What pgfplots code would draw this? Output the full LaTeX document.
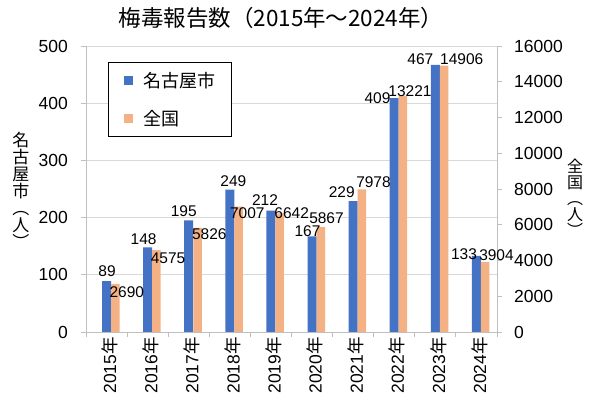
\documentclass[border=0pt]{standalone}
\usepackage{pgfplots}
\pgfplotsset{compat=1.18}
\usepackage{pgfplotstable}
\usepackage{fontspec}
\setmainfont{Liberation Sans}
\newfontfamily\cjk{Noto Sans CJK JP}
\definecolor{nblue}{HTML}{4472C4}
\definecolor{norange}{HTML}{F4B183}
\definecolor{gridc}{HTML}{D9D9D9}
\definecolor{axc}{HTML}{BFBFBF}

\pgfplotstableread{
x nag zen dxb dyb dxo dyo
0 89 2690 0.5 10 11.5 -8
1 148 4575 -4 8 11.7 -7.8
2 195 5826 -5 9 11.8 -6
3 249 7007 3.5 8.6 8.7 -6.6
4 212 6642 -6 10.7 12 0
5 167 5867 -4.5 5 5.7 9
6 229 7978 -11.4 9.3 11.6 7.4
7 409 13221 -16.7 0 7 4.7
8 467 14906 -15 6 17.7 6.3
9 133 3904 -12.4 2 11.3 7
}\datatable

\tikzset{lbl/.style={font=\fontsize{15.5}{15.5}\selectfont, text=black, anchor=center, inner sep=0pt}}
\pgfplotsset{
  common/.style={
    at={(86pt,78pt)}, anchor=south west, scale only axis,
    width=411pt, height=286pt,
    xmin=-0.5, xmax=9.5,
    clip=false,
    tick align=outside, major tick length=5pt,
    tick style={draw=axc, line width=0.8pt},
    axis line style={draw=axc, line width=0.8pt, -},
    /pgf/number format/assume math mode=true,
    /pgf/number format/1000 sep={},
    scaled y ticks=false,
  },
  sq/.style={legend image code/.code={\fill[##1] (0pt,-4.5pt) rectangle (9pt,4.5pt);}},
}

\begin{document}
\begin{tikzpicture}[x=1pt,y=1pt]
\path[use as bounding box] (0,0) rectangle (590,410);

% left axis: Nagoya bars
\begin{axis}[common,
  ymin=0, ymax=500, ytick={0,100,...,500},
  axis x line*=bottom, axis y line*=left,
  ymajorgrids, major grid style={draw=gridc, line width=0.8pt},
  yticklabel style={font=\fontsize{17.5}{17.5}\selectfont, inner sep=0pt, xshift=-13pt},
  xtick={-0.5,0.5,...,9.5}, xticklabels={{},{},{},{},{},{},{},{},{},{},{}},
  extra x ticks={0,1,...,9},
  extra x tick labels={2015{\cjk 年},2016{\cjk 年},2017{\cjk 年},2018{\cjk 年},2019{\cjk 年},2020{\cjk 年},2021{\cjk 年},2022{\cjk 年},2023{\cjk 年},2024{\cjk 年}},
  extra x tick style={tick style={draw=none}, xticklabel style={font=\fontsize{17.5}{17.5}\selectfont, inner sep=0pt, xshift=-7pt, rotate=90, anchor=east, yshift=-10pt}},
  ybar, bar width=9pt,
  legend style={at={(0.0535,0.944)}, anchor=north west, draw=black, line width=0.8pt, fill=white,
    font=\cjk\fontsize{18}{18}\selectfont, inner xsep=16pt, inner ysep=9.5pt, row sep=22pt,
    nodes={inner sep=0pt}, /tikz/every odd column/.append style={column sep=10pt}},
  legend cell align=left,
]
\addplot[sq, fill=nblue, draw=none, bar shift=0pt] table[x=x, y=nag] {\datatable};
\addlegendentry{名古屋市}
\addlegendimage{sq, fill=norange, draw=none}
\addlegendentry{全国}
\end{axis}

% right axis: national bars and labels
\begin{axis}[common,
  ymin=0, ymax=16000, ytick={0,2000,...,16000},
  axis x line=none, axis y line*=right,
  yticklabel style={font=\fontsize{17.5}{17.5}\selectfont, inner sep=0pt, xshift=12pt},
  ybar, bar width=8.5pt,
]
\addplot[fill=norange, draw=none, bar shift=8.75pt,
  point meta=explicit symbolic,
  visualization depends on={\thisrow{dxo}\as\dxo},
  visualization depends on={\thisrow{dyo}\as\dyo},
  nodes near coords,
  every node near coord/.append style={lbl, xshift=\dxo pt, yshift=\dyo pt},
] table[x=x, y=zen, meta=zen] {\datatable};
\end{axis}

% Nagoya labels on top
\begin{axis}[common, hide axis,
  ymin=0, ymax=500,
  ybar, bar width=9pt,
]
\addplot[draw=none, fill=none, bar shift=0pt,
  point meta=explicit symbolic,
  visualization depends on={\thisrow{dxb}\as\dxb},
  visualization depends on={\thisrow{dyb}\as\dyb},
  nodes near coords,
  every node near coord/.append style={lbl, xshift=\dxb pt, yshift=\dyb pt},
] table[x=x, y=nag, meta=nag] {\datatable};
\end{axis}

\node[font=\cjk\fontsize{22.5}{22.5}\selectfont, inner sep=0pt] at (281,392) {梅毒報告数（2015年～2024年）};
\node[font=\cjk\fontsize{17}{17}\selectfont, align=center, inner sep=0pt] at (21,220) {名\\古\\屋\\市\\︵\\人\\︶};
\node[font=\cjk\fontsize{16}{16}\selectfont, align=center, inner sep=0pt] at (575,212) {全\\国\\︵\\人\\︶};
\end{tikzpicture}
\end{document}
